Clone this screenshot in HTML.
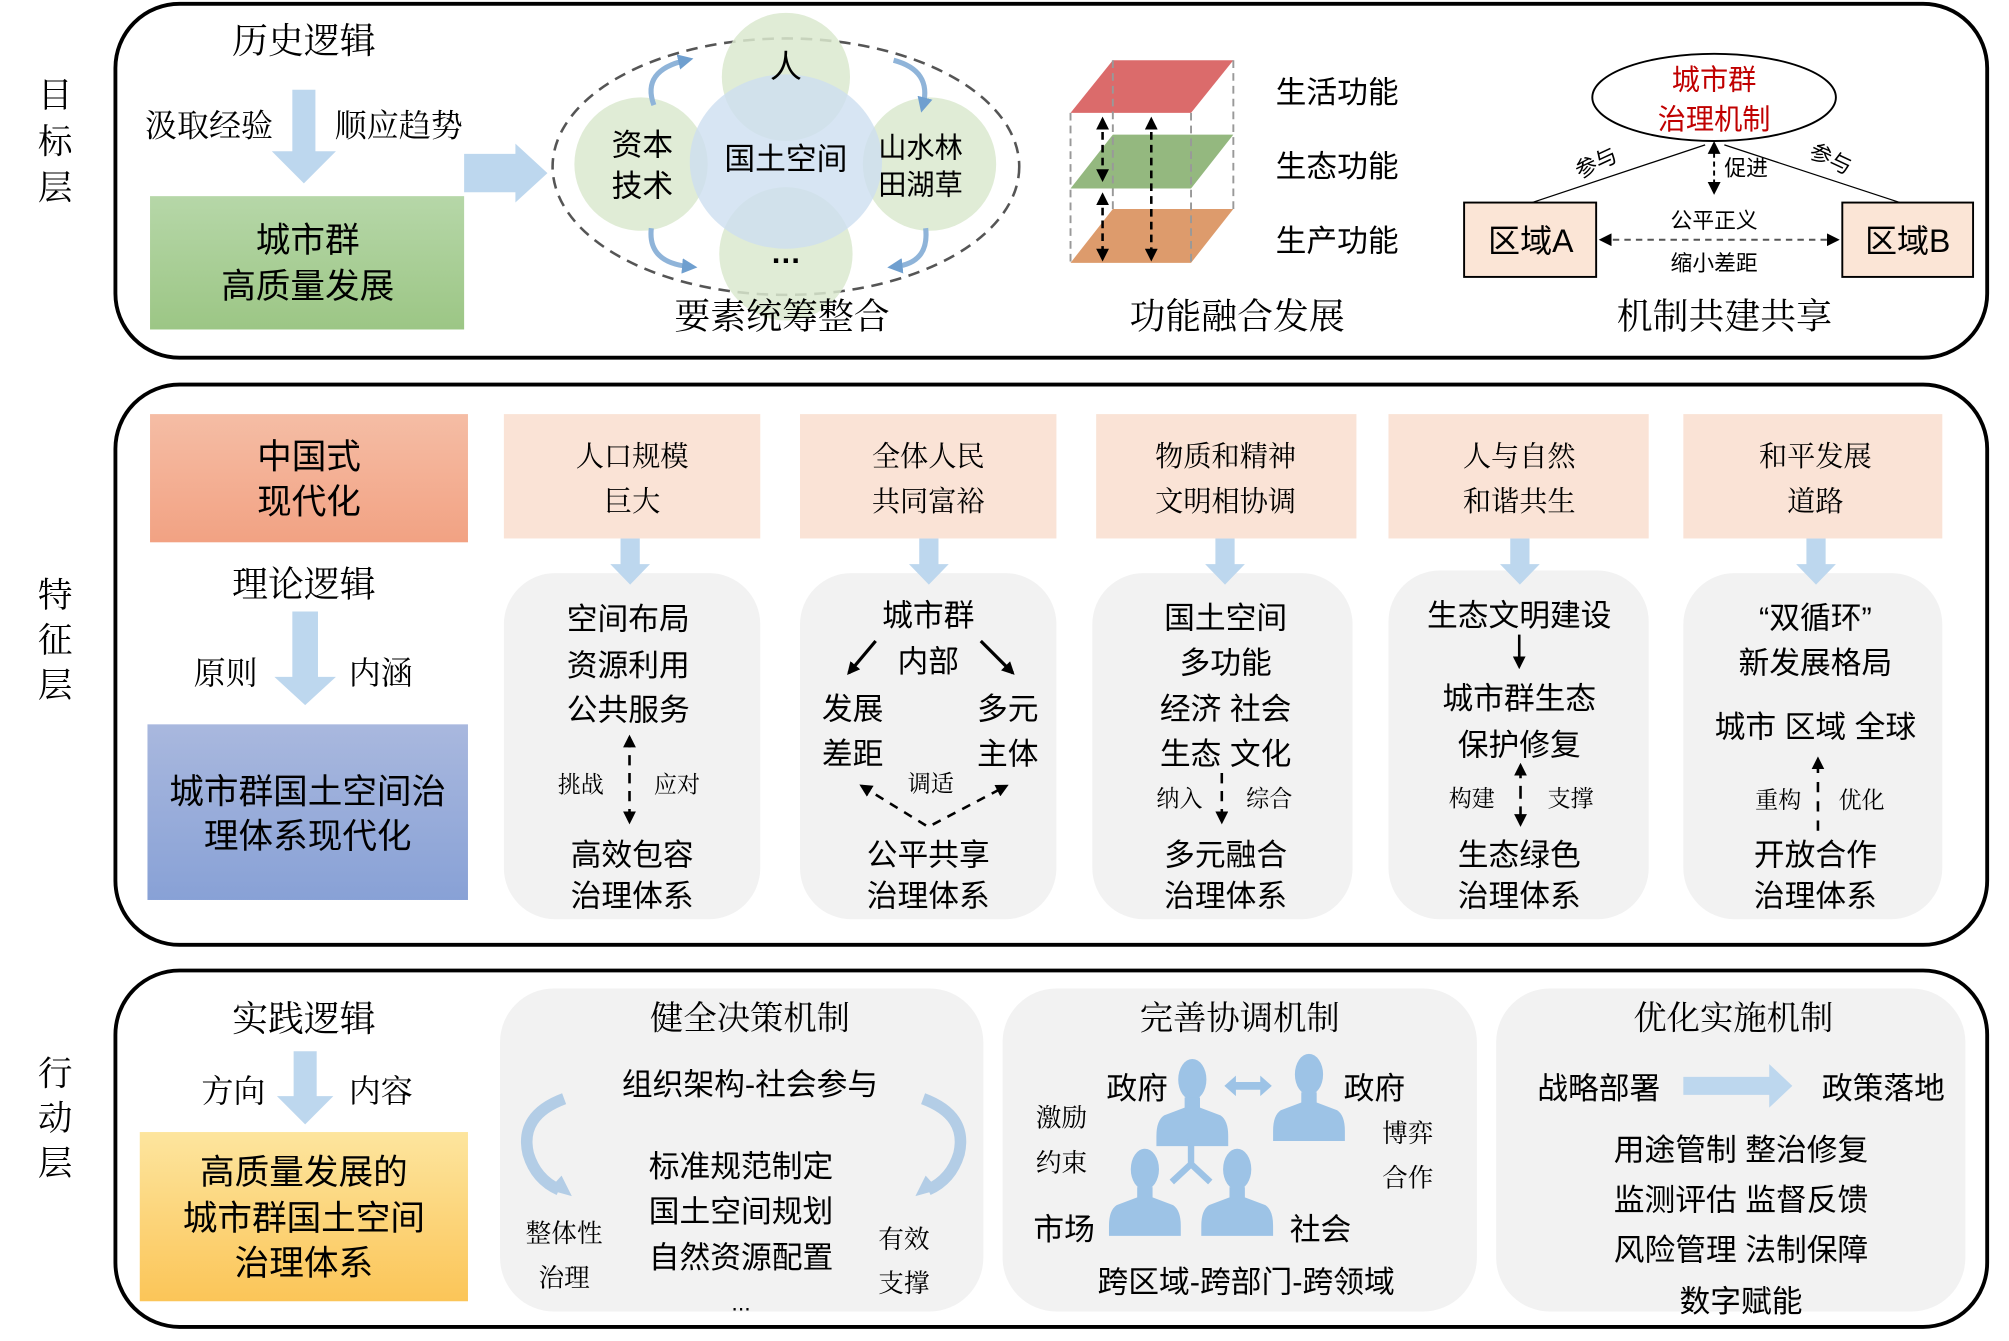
<!DOCTYPE html>
<html><head><meta charset="utf-8"><style>
html,body{margin:0;padding:0;background:#fff;}
svg{display:block;}
.s{font-family:"Liberation Sans","Noto Sans CJK SC",sans-serif;fill:#000;}
.k{font-family:"Liberation Serif","Noto Serif CJK SC",serif;fill:#000;}
text{dominant-baseline:central;text-anchor:middle;}
</style></head><body>
<svg width="2009" height="1341" viewBox="0 0 1567 1046" xmlns="http://www.w3.org/2000/svg">
<defs>
<marker id="ah" markerWidth="8" markerHeight="8" refX="6" refY="4" orient="auto" markerUnits="userSpaceOnUse"><path d="M0,0 L8,4 L0,8 z" fill="#000"/></marker>
<marker id="ahs" markerWidth="10" markerHeight="10" refX="8" refY="5" orient="auto-start-reverse" markerUnits="userSpaceOnUse"><path d="M0,0 L10,5 L0,10 z" fill="#000"/></marker>
<marker id="ab" markerWidth="12" markerHeight="12" refX="6" refY="6" orient="auto" markerUnits="userSpaceOnUse"><path d="M0,0 L12,6 L0,12 z" fill="#6f9fcf"/></marker>
<linearGradient id="gG" x1="0" y1="0" x2="0" y2="1"><stop offset="0" stop-color="#b6d7a8"/><stop offset="1" stop-color="#9cc685"/></linearGradient>
<linearGradient id="gO" x1="0" y1="0" x2="0" y2="1"><stop offset="0" stop-color="#f5bda5"/><stop offset="1" stop-color="#f2a283"/></linearGradient>
<linearGradient id="gB" x1="0" y1="0" x2="0" y2="1"><stop offset="0" stop-color="#a9b8de"/><stop offset="1" stop-color="#88a1d6"/></linearGradient>
<linearGradient id="gY" x1="0" y1="0" x2="0" y2="1"><stop offset="0" stop-color="#fde59e"/><stop offset="1" stop-color="#fbc558"/></linearGradient>
<g id="person"><ellipse cx="0" cy="-18" rx="11" ry="16" fill="#9dc3e6"/><path d="M-6,-4 L-6,4 L-22,10 Q-28,14 -28,26 L-28,34 L28,34 L28,26 Q28,14 22,10 L6,4 L6,-4 z" fill="#9dc3e6"/></g>
</defs>

<rect x="90" y="3" width="1460" height="276" rx="50" fill="none" stroke="#000" stroke-width="3"/>
<rect x="90" y="300" width="1460" height="437" rx="50" fill="none" stroke="#000" stroke-width="3"/>
<rect x="90" y="757" width="1460" height="278" rx="50" fill="none" stroke="#000" stroke-width="3"/>

<g class="k" font-size="27">
<text x="43" y="75">目</text><text x="43" y="111">标</text><text x="43" y="147">层</text>
<text x="43" y="465">特</text><text x="43" y="500">征</text><text x="43" y="535">层</text>
<text x="43" y="838">行</text><text x="43" y="873">动</text><text x="43" y="908">层</text>
</g>

<text class="k" x="237" y="32" font-size="28">历史逻辑</text>
<path d="M228,70 H246 V118 H262 L237,143 L212,118 H228 z" fill="#bdd7ee"/>
<text class="k" x="163" y="98" font-size="25">汲取经验</text>
<text class="k" x="311" y="98" font-size="25">顺应趋势</text>
<rect x="117" y="153" width="245" height="104" fill="url(#gG)"/>
<text class="s" x="240" y="188" font-size="27">城市群</text>
<text class="s" x="240" y="224" font-size="27">高质量发展</text>
<path d="M362,120 H402 V112 L427,135 L402,158 V150 H362 z" fill="#bdd7ee"/>

<ellipse cx="613" cy="130" rx="182" ry="100" fill="none" stroke="#555" stroke-width="2" stroke-dasharray="9,6"/>
<g fill="#dbe9cf" opacity="0.85">
<circle cx="613" cy="60" r="50"/><circle cx="613" cy="198" r="52"/>
<circle cx="500" cy="128" r="52"/><circle cx="725" cy="128" r="52"/>
</g>
<ellipse cx="613" cy="126" rx="75" ry="68" fill="#cddff0" opacity="0.8"/>
<text class="s" x="613" y="52" font-size="25">人</text>
<text class="s" x="501" y="113" font-size="24">资本</text><text class="s" x="501" y="145" font-size="24">技术</text>
<text class="s" x="613" y="124" font-size="24">国土空间</text>
<text class="s" x="718" y="115" font-size="22">山水林</text><text class="s" x="718" y="144" font-size="22">田湖草</text>
<text class="s" x="613" y="197" font-size="24" font-weight="bold">…</text>
<g fill="none" stroke="#8fb4d9" stroke-width="4">
<path d="M510,82 Q500,55 535,47" marker-end="url(#ab)"/>
<path d="M697,47 Q727,55 720,82" marker-end="url(#ab)"/>
<path d="M508,178 Q505,205 538,208" marker-end="url(#ab)"/>
<path d="M722,178 Q725,205 698,208" marker-end="url(#ab)"/>
</g>
<text class="k" x="610" y="247" font-size="28">要素统筹整合</text>

<polygon points="868,47 962,47 929,88 835,88" fill="#db6b6b"/>
<polygon points="868,105 962,105 929,147 835,147" fill="#94b87f"/>
<polygon points="868,163 962,163 929,205 835,205" fill="#dd9b6c"/>
<g stroke="#999" stroke-width="1.5" stroke-dasharray="6,4" fill="none">
<line x1="835" y1="88" x2="835" y2="205"/><line x1="929" y1="88" x2="929" y2="205"/>
<line x1="962" y1="47" x2="962" y2="163"/><line x1="868" y1="47" x2="868" y2="163"/>
</g>
<g stroke="#000" stroke-width="2" stroke-dasharray="6,4" fill="none">
<line x1="860" y1="93" x2="860" y2="140" marker-start="url(#ahs)" marker-end="url(#ahs)"/>
<line x1="860" y1="152" x2="860" y2="202" marker-start="url(#ahs)" marker-end="url(#ahs)"/>
<line x1="898" y1="93" x2="898" y2="202" marker-start="url(#ahs)" marker-end="url(#ahs)"/>
</g>
<text class="s" x="1043" y="72" font-size="24">生活功能</text>
<text class="s" x="1043" y="130" font-size="24">生态功能</text>
<text class="s" x="1043" y="188" font-size="24">生产功能</text>
<text class="k" x="965" y="247" font-size="28">功能融合发展</text>

<ellipse cx="1337" cy="76" rx="95" ry="34" fill="#fff" stroke="#000" stroke-width="1.5"/>
<text class="s" x="1337" y="62" font-size="22" style="fill:#c00000">城市群</text>
<text class="s" x="1337" y="93" font-size="22" style="fill:#c00000">治理机制</text>
<line x1="1195" y1="158" x2="1330" y2="113" stroke="#000" stroke-width="1"/>
<line x1="1482" y1="158" x2="1345" y2="113" stroke="#000" stroke-width="1"/>
<line x1="1337" y1="112" x2="1337" y2="150" stroke="#000" stroke-width="1.5" stroke-dasharray="4,3" marker-start="url(#ahs)" marker-end="url(#ahs)"/>
<text class="s" x="1245" y="127" font-size="17" transform="rotate(-25 1245 127)">参与</text>
<text class="s" x="1428" y="124" font-size="17" transform="rotate(25 1428 124)">参与</text>
<text class="s" x="1362" y="131" font-size="17">促进</text>
<rect x="1142" y="158" width="103" height="58" fill="#fbe5d6" stroke="#000" stroke-width="1.5"/>
<rect x="1437" y="158" width="102" height="58" fill="#fbe5d6" stroke="#000" stroke-width="1.5"/>
<text class="s" x="1194" y="188" font-size="25">区域A</text>
<text class="s" x="1488" y="188" font-size="25">区域B</text>
<line x1="1249" y1="187" x2="1433" y2="187" stroke="#555" stroke-width="1.5" stroke-dasharray="5,4" marker-start="url(#ahs)" marker-end="url(#ahs)"/>
<text class="s" x="1337" y="172" font-size="17">公平正义</text>
<text class="s" x="1337" y="205" font-size="17">缩小差距</text>
<text class="k" x="1345" y="247" font-size="28">机制共建共享</text>

<rect x="117" y="323" width="248" height="100" fill="url(#gO)"/>
<text class="s" x="241" y="357" font-size="27">中国式</text>
<text class="s" x="241" y="392" font-size="27">现代化</text>
<text class="k" x="237" y="456" font-size="28">理论逻辑</text>
<path d="M228,477 H248 V528 H262 L238,550 L214,528 H228 z" fill="#bdd7ee"/>
<text class="k" x="176" y="525" font-size="25">原则</text>
<text class="k" x="297" y="525" font-size="25">内涵</text>
<rect x="115" y="565" width="250" height="137" fill="url(#gB)"/>
<text class="s" x="240" y="618" font-size="27">城市群国土空间治</text>
<text class="s" x="240" y="653" font-size="27">理体系现代化</text>

<g fill="#fae3d6">
<rect x="393" y="323" width="200" height="97"/><rect x="624" y="323" width="200" height="97"/>
<rect x="855" y="323" width="203" height="97"/><rect x="1083" y="323" width="203" height="97"/>
<rect x="1313" y="323" width="202" height="97"/>
</g>
<g fill="#f2f2f2">
<rect x="393" y="447" width="200" height="270" rx="40"/><rect x="624" y="447" width="200" height="270" rx="40"/>
<rect x="852" y="447" width="203" height="270" rx="40"/><rect x="1083" y="445" width="203" height="272" rx="40"/>
<rect x="1313" y="447" width="202" height="270" rx="40"/>
</g>
<g fill="#bdd7ee">
<path d="M484,420 H499 V440 H507 L491.5,456 L476,440 H484 z"/>
<path d="M717,420 H732 V440 H740 L724.5,456 L709,440 H717 z"/>
<path d="M948,420 H963 V440 H971 L955.5,456 L940,440 H948 z"/>
<path d="M1178,420 H1193 V440 H1201 L1185.5,456 L1170,440 H1178 z"/>
<path d="M1409,420 H1424 V440 H1432 L1416.5,456 L1401,440 H1409 z"/>
</g>
<g class="k" font-size="22">
<text x="493" y="357">人口规模</text><text x="493" y="392">巨大</text>
<text x="724" y="357">全体人民</text><text x="724" y="392">共同富裕</text>
<text x="956" y="357">物质和精神</text><text x="956" y="392">文明相协调</text>
<text x="1185" y="357">人与自然</text><text x="1185" y="392">和谐共生</text>
<text x="1416" y="357">和平发展</text><text x="1416" y="392">道路</text>
</g>
<g class="s" font-size="24">
<text x="490" y="483">空间布局</text><text x="490" y="519">资源利用</text><text x="490" y="554">公共服务</text>
<text x="493" y="667">高效包容</text><text x="493" y="699">治理体系</text>
<text x="724" y="480">城市群</text><text x="724" y="516">内部</text>
<text x="665" y="553">发展</text><text x="665" y="588">差距</text>
<text x="786" y="553">多元</text><text x="786" y="588">主体</text>
<text x="724" y="667">公平共享</text><text x="724" y="699">治理体系</text>
<text x="956" y="482">国土空间</text><text x="956" y="517">多功能</text>
<text x="956" y="553">经济 社会</text><text x="956" y="588">生态 文化</text>
<text x="956" y="667">多元融合</text><text x="956" y="699">治理体系</text>
<text x="1185" y="480">生态文明建设</text><text x="1185" y="545">城市群生态</text><text x="1185" y="581">保护修复</text>
<text x="1185" y="667">生态绿色</text><text x="1185" y="699">治理体系</text>
<text x="1416" y="482">“双循环”</text><text x="1416" y="517">新发展格局</text>
<text x="1416" y="567">城市 区域 全球</text>
<text x="1416" y="667">开放合作</text><text x="1416" y="699">治理体系</text>
</g>
<g class="k" font-size="18">
<text x="453" y="612">挑战</text><text x="528" y="612">应对</text>
<text x="726" y="611">调适</text>
<text x="920" y="623">纳入</text><text x="990" y="623">综合</text>
<text x="1148" y="623">构建</text><text x="1225" y="623">支撑</text>
<text x="1387" y="624">重构</text><text x="1452" y="624">优化</text>
</g>
<g stroke="#000" stroke-width="2" fill="none">
<line x1="491" y1="575" x2="491" y2="641" stroke-dasharray="8,6" marker-start="url(#ahs)" marker-end="url(#ahs)"/>
<line x1="683" y1="500" x2="662" y2="525" stroke-width="2.5" marker-end="url(#ahs)"/>
<line x1="765" y1="500" x2="790" y2="525" stroke-width="2.5" marker-end="url(#ahs)"/>
<polyline points="672,613 724,645 785,613" stroke-dasharray="7,6" marker-start="url(#ahs)" marker-end="url(#ahs)"/>
<line x1="953" y1="603" x2="953" y2="641" stroke-dasharray="8,6" marker-end="url(#ahs)"/>
<line x1="1185" y1="495" x2="1185" y2="520" marker-end="url(#ahs)"/>
<line x1="1186" y1="597" x2="1186" y2="643" stroke-dasharray="10,6" marker-start="url(#ahs)" marker-end="url(#ahs)"/>
<line x1="1418" y1="648" x2="1418" y2="592" stroke-dasharray="8,7" marker-end="url(#ahs)"/>
</g>

<text class="k" x="237" y="795" font-size="28">实践逻辑</text>
<path d="M229,820 H247 V855 H260 L238,877 L216,855 H229 z" fill="#bdd7ee"/>
<text class="k" x="182" y="851" font-size="25">方向</text>
<text class="k" x="297" y="851" font-size="25">内容</text>
<rect x="109" y="883" width="256" height="132" fill="url(#gY)"/>
<text class="s" x="237" y="915" font-size="27">高质量发展的</text>
<text class="s" x="237" y="951" font-size="27">城市群国土空间</text>
<text class="s" x="237" y="986" font-size="27">治理体系</text>

<g fill="#f2f2f2">
<rect x="390" y="771" width="377" height="252" rx="42"/>
<rect x="782" y="771" width="370" height="252" rx="42"/>
<rect x="1167" y="771" width="366" height="252" rx="42"/>
</g>
<g class="k" font-size="26">
<text x="585" y="795">健全决策机制</text><text x="967" y="795">完善协调机制</text><text x="1352" y="795">优化实施机制</text>
</g>
<g class="s" font-size="24">
<text x="585" y="846">组织架构-社会参与</text>
<text x="578" y="910">标准规范制定</text><text x="578" y="945">国土空间规划</text><text x="578" y="981">自然资源配置</text>
<text x="578" y="1016" font-size="18">...</text>
<text x="887" y="849">政府</text><text x="1072" y="849">政府</text>
<text x="830" y="959">市场</text><text x="1030" y="959">社会</text>
<text x="972" y="1000">跨区域-跨部门-跨领域</text>
<text x="1247" y="849">战略部署</text><text x="1469" y="849">政策落地</text>
<text x="1358" y="897">用途管制 整治修复</text>
<text x="1358" y="936">监测评估 监督反馈</text>
<text x="1358" y="975">风险管理 法制保障</text>
<text x="1358" y="1015">数字赋能</text>
</g>
<g class="k" font-size="20">
<text x="440" y="962">整体性</text><text x="440" y="997">治理</text>
<text x="705" y="967">有效</text><text x="705" y="1001">支撑</text>
<text x="828" y="872">激励</text><text x="828" y="907">约束</text>
<text x="1098" y="884">博弈</text><text x="1098" y="919">合作</text>
</g>
<g fill="none" stroke-width="9">
<path d="M440,857 Q405,870 412,900 Q418,920 436,928" stroke="#b3cde6"/>
<path d="M720,857 Q755,870 748,900 Q742,920 724,928" stroke="#b3cde6"/>
</g>
<path d="M428,928 L446,933 L438,917 z" fill="#b3cde6"/>
<path d="M732,928 L714,933 L722,917 z" fill="#b3cde6"/>
<use href="#person" x="930" y="860"/>
<use href="#person" x="1021" y="856"/>
<use href="#person" x="893" y="930"/>
<use href="#person" x="965" y="930"/>
<path d="M955,847 L964,839 V844 H983 V839 L992,847 L983,855 V850 H964 V855 z" fill="#9dc3e6"/>
<path d="M929,888 V908 L914,922 M929,908 L944,922" stroke="#9dc3e6" stroke-width="5" fill="none"/>
<path d="M1313,840 H1380 V830 L1398,847 L1380,864 V854 H1313 z" fill="#bdd7ee"/>
</svg>
</body></html>
